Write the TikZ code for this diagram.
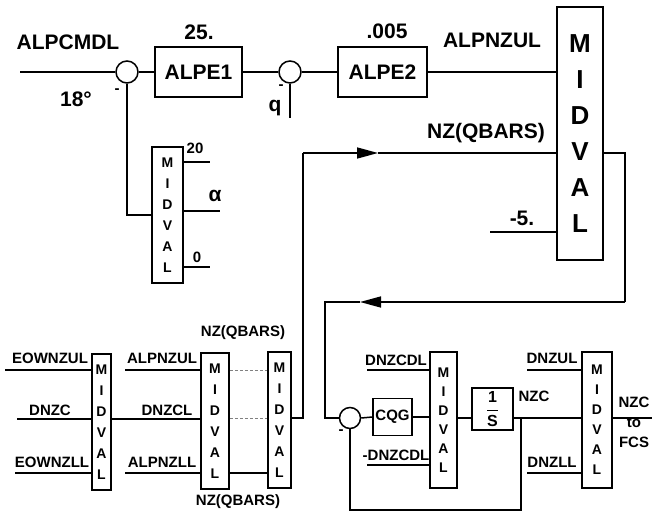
\documentclass[tikz,border=0pt]{standalone}
\usepackage{amsmath}
\usepackage{fontspec}
\setmainfont{Liberation Sans}
\usetikzlibrary{arrows.meta,positioning,calc}

\newcommand{\mvtxt}{M\\I\\D\\V\\A\\L}

\begin{document}
\begin{tikzpicture}[x=1pt,y=-1pt,
  blk/.style={rectangle,draw,line width=1.5pt,inner sep=1pt,font=\bfseries\fontsize{21}{24}\selectfont},
  sumc/.style={circle,draw,line width=1.5pt,minimum size=22pt,inner sep=0pt},
  mv/.style={rectangle,draw,line width=1.5pt,inner sep=0pt,align=center,font=\bfseries\fontsize{14}{21}\selectfont},
  lbig/.style={font=\bfseries\fontsize{21}{24}\selectfont,inner sep=0pt},
  lsml/.style={font=\bfseries\fontsize{15}{18}\selectfont,inner sep=0pt},
  link/.style={line width=1.5pt},
  faint/.style={line width=0.8pt,gray,dash pattern=on 3pt off 2pt},
  arrw/.style={-{Triangle[length=21pt,width=11pt]}}
]
\useasboundingbox (0,0) rectangle (652,516);

% upper loop
\node[sumc] (s1) at (127,72) {};
\node[blk,minimum width=87pt,minimum height=50pt] (alpe1) at (198.5,72) {ALPE1};
\node[sumc] (s2) at (290,72) {};
\node[blk,minimum width=89pt,minimum height=50pt] (alpe2) at (382.5,72) {ALPE2};
\node[mv,font=\bfseries\fontsize{26}{36}\selectfont,minimum width=46pt,minimum height=253pt] (mvbig) at (580,133.5) {\mvtxt};
\node[mv,minimum width=31pt,minimum height=136pt] (mvs) at (167.5,215) {\mvtxt};

\node[lbig] (lcmd) at (68,42) {ALPCMDL};
\node[lbig] (l18) at (76,99) {18°};
\node[lbig] (l25) at (199,32) {25.};
\node[lbig] (l005) at (387,31) {.005};
\node[lbig] (lul) at (492,40) {ALPNZUL};
\node[lbig] (lq) at (275,108) {q};
\node[lbig] (lnzq) at (486,133) {NZ(QBARS)};
\node[lbig] (l5) at (522,218) {-5.};
\node[lsml] (m1) at (117,91) {-};
\node[lsml] (m2) at (281,87) {-};
\node[lsml] (l20) at (195,148) {20};
\node[lbig] (lal) at (215,196) {α};
\node[lsml] (l0) at (197,257) {0};

\coordinate (a0) at (20,72);
\coordinate (qend) at (290,118);
\coordinate (t20) at (210,162);
\coordinate (tal) at (220,211);
\coordinate (t0) at (210,267);
\coordinate (m5) at (490,232);
\coordinate (c1) at (303,153);
\coordinate (ar1) at (378,153);
\coordinate (c2) at (625,302);
\coordinate (ar2) at (360,302);
\coordinate (c3) at (325,302);

\draw[link] (a0) -- (s1.west);
\draw[link] (s1.east) -- (alpe1.west);
\draw[link] (alpe1.east) -- (s2.west);
\draw[link] (s2.east) -- (alpe2.west);
\draw[link] (s2.south) -- (qend);
\draw[link] (s1.south) |- (mvs.west);
\foreach \p in {t20,tal,t0}
  \draw[link] (mvs.east |- \p) -- (\p);
\draw[link] (alpe2.east) -- (alpe2.east -| mvbig.west);
\draw[link] (m5) -- (m5 -| mvbig.west);

% lower row
\node[mv,minimum width=19pt,minimum height=136pt] (mvA) at (101.5,422) {\mvtxt};
\node[mv,minimum width=28pt,minimum height=136pt] (mvB) at (215,421) {\mvtxt};
\node[mv,minimum width=23pt,minimum height=136pt] (mvC) at (279.5,420) {\mvtxt};
\node[sumc,minimum size=21pt] (s3) at (350,418) {};
\node[blk,font=\bfseries\fontsize{15}{18}\selectfont,minimum width=39pt,minimum height=37pt] (cqg) at (392.5,417) {CQG};
\node[mv,font=\bfseries\fontsize{14}{19}\selectfont,minimum width=27pt,minimum height=136pt] (mvD) at (443.5,420) {\mvtxt};
\node[blk,font=\bfseries\fontsize{16}{18}\selectfont,minimum width=41pt,minimum height=42pt] (one) at (492.5,409) {$\dfrac{\text{1}}{\text{S}}$};
\node[mv,font=\bfseries\fontsize{14}{20}\selectfont,minimum width=30pt,minimum height=136pt] (mvE) at (597,420) {\mvtxt};

\node[lsml] (leu) at (50,358) {EOWNZUL};
\node[lsml] (ldn) at (50,410) {DNZC};
\node[lsml] (lel) at (52,462) {EOWNZLL};
\node[lsml] (lau) at (162,358) {ALPNZUL};
\node[lsml] (ldl) at (167,410) {DNZCL};
\node[lsml] (lal2) at (162,462) {ALPNZLL};
\node[lsml] (lqt) at (243,333) {NZ(QBARS)};
\node[lsml] (lqb) at (238,502) {NZ(QBARS)};
\node[lsml] (lcu) at (396,360) {DNZCDL};
\node[lsml] (lcl) at (396,455) {-DNZCDL};
\node[lsml] (m3) at (341,432) {-};
\node[lsml] (lnzc) at (534,396) {NZC};
\node[lsml] (lzu) at (552,358) {DNZUL};
\node[lsml] (lzl) at (552,462) {DNZLL};
\node[lsml] (lo1) at (634,402) {NZC};
\node[lsml] (lo2) at (634,423) {to};
\node[lsml] (lo3) at (634,442) {FCS};

\coordinate (inA1) at (5,370);
\coordinate (inA2) at (17,419);
\coordinate (inA3) at (15,473);
\coordinate (inB1) at (125,370);
\coordinate (inB3) at (125,473);
\coordinate (inD1) at (367,370);
\coordinate (inD3) at (367,465);
\coordinate (inE1) at (527,370);
\coordinate (inE3) at (527,473);
\coordinate (jn) at (521,418);
\coordinate (fb) at (350,510);
\coordinate (out) at (652,418);

\foreach \p in {inA1,inA2,inA3}
  \draw[link] (\p) -- (\p -| mvA.west);
\foreach \p in {inB1,inB3}
  \draw[link] (\p) -- (\p -| mvB.west);
\draw[link] (mvA.east |- inA2) -- (inA2 -| mvB.west);
\draw[faint] (mvB.east |- inB1) -- (inB1 -| mvC.west);
\draw[faint] (mvB.east |- s3) -- (s3 -| mvC.west);
\draw[link] (mvB.east |- inB3) -- (inB3 -| mvC.west);
\draw[link] (mvC.east |- s3) -| (c1);
\draw[link,arrw] (c1) -- (ar1);
\draw[link] (ar1) -- (ar1 -| mvbig.west);
\draw[link] (mvbig.east |- c1) -| (c2);
\draw[link,arrw] (c2) -- (ar2);
\draw[link] (ar2) -- (c3) |- (s3.west);

\draw[link] (s3.east) -- (cqg.west);
\draw[link] (cqg.east) -- (cqg.east -| mvD.west);
\foreach \p in {inD1,inD3}
  \draw[link] (\p) -- (\p -| mvD.west);
\draw[link] (mvD.east |- s3) -- (s3 -| one.west);
\draw[link] (one.east |- s3) -- (s3 -| mvE.west);
\draw[link] (jn) |- (fb) -- (s3.south);
\foreach \p in {inE1,inE3}
  \draw[link] (\p) -- (\p -| mvE.west);
\draw[link] (mvE.east |- out) -- (out);
\end{tikzpicture}
\end{document}
